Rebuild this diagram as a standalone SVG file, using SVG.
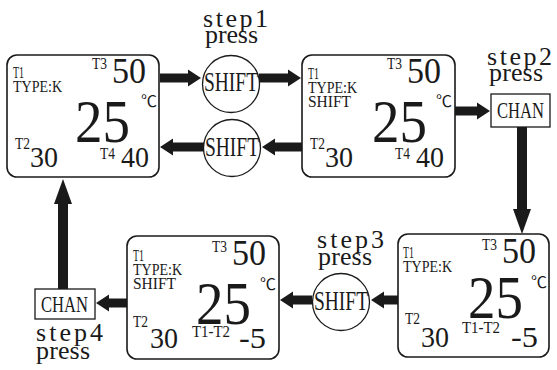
<svg xmlns="http://www.w3.org/2000/svg" width="557" height="370" viewBox="0 0 557 370">
<defs>
<style>
text{font-family:"Liberation Serif","Noto Sans CJK SC",serif;fill:#1a1a1a}
.box{fill:#fff;stroke:#1a1a1a;stroke-width:1.6}
.btn{fill:#fff;stroke:#1a1a1a;stroke-width:1.3}
.sm{font-size:16px}
.md{font-size:30px}
.lg{font-size:35px}
.xl{font-size:62px}
.deg{font-size:16px}
.key{font-size:28px}
.chan{font-size:23px}
.lbl{font-size:26px}
.arr{stroke:#1a1a1a;stroke-width:9;fill:none}
.arv{stroke:#1a1a1a;stroke-width:10;fill:none}
</style>
<marker id="ah" markerUnits="userSpaceOnUse" markerWidth="13" markerHeight="18" viewBox="0 -9 13 18" refX="1" refY="0" orient="auto"><path d="M0,-8.5 L13,0 L0,8.5 Z" fill="#1a1a1a"/></marker>
<marker id="av" markerUnits="userSpaceOnUse" markerWidth="25" markerHeight="18" viewBox="0 -9 25 18" refX="1" refY="0" orient="auto"><path d="M0,-9 L25,0 L0,9 Z" fill="#1a1a1a"/></marker>
</defs>
<rect width="557" height="370" fill="#fff"/>

<g id="connectors">
<line class="arr" x1="160" y1="78" x2="189" y2="78" marker-end="url(#ah)"/>
<line class="arr" x1="259" y1="78" x2="289" y2="78" marker-end="url(#ah)"/>
<line class="arr" x1="302" y1="147" x2="274" y2="147" marker-end="url(#ah)"/>
<line class="arr" x1="204" y1="147" x2="172" y2="147" marker-end="url(#ah)"/>
<line class="arr" x1="455" y1="111" x2="478" y2="111" marker-end="url(#ah)"/>
<line class="arv" x1="522" y1="127" x2="522" y2="210" marker-end="url(#av)"/>
<line class="arr" x1="398" y1="300" x2="383" y2="300" marker-end="url(#ah)"/>
<line class="arr" x1="312" y1="300" x2="292" y2="300" marker-end="url(#ah)"/>
<line class="arr" x1="127" y1="303" x2="108" y2="303" marker-end="url(#ah)"/>
<line class="arv" x1="63" y1="289" x2="63" y2="203" marker-end="url(#av)"/>
</g>

<g id="display1">
<rect class="box" x="7" y="55" width="152" height="122" rx="10"/>
<text class="sm" x="13" y="78" textLength="11" lengthAdjust="spacingAndGlyphs">T1</text>
<text class="sm" x="13" y="92" textLength="49" lengthAdjust="spacingAndGlyphs">TYPE:K</text>
<text class="sm" x="92" y="69" textLength="15" lengthAdjust="spacingAndGlyphs">T3</text>
<text class="lg" x="112" y="83" textLength="34" lengthAdjust="spacingAndGlyphs">50</text>
<text class="xl" x="75" y="142" textLength="55" lengthAdjust="spacingAndGlyphs">25</text>
<text class="deg" x="141" y="107">℃</text>
<text class="sm" x="15" y="149" textLength="15" lengthAdjust="spacingAndGlyphs">T2</text>
<text class="md" x="30" y="167" textLength="28" lengthAdjust="spacingAndGlyphs">30</text>
<text class="sm" x="100" y="159" textLength="15" lengthAdjust="spacingAndGlyphs">T4</text>
<text class="md" x="121" y="167" textLength="28" lengthAdjust="spacingAndGlyphs">40</text>
</g>

<g id="display2">
<rect class="box" x="302" y="55" width="153" height="122" rx="10"/>
<text class="sm" x="308" y="79" textLength="11" lengthAdjust="spacingAndGlyphs">T1</text>
<text class="sm" x="308" y="93" textLength="49" lengthAdjust="spacingAndGlyphs">TYPE:K</text>
<text class="sm" x="308" y="107" textLength="43" lengthAdjust="spacingAndGlyphs">SHIFT</text>
<text class="sm" x="387" y="69" textLength="15" lengthAdjust="spacingAndGlyphs">T3</text>
<text class="lg" x="407" y="83" textLength="34" lengthAdjust="spacingAndGlyphs">50</text>
<text class="xl" x="372" y="142" textLength="55" lengthAdjust="spacingAndGlyphs">25</text>
<text class="deg" x="436" y="107">℃</text>
<text class="sm" x="310" y="149" textLength="15" lengthAdjust="spacingAndGlyphs">T2</text>
<text class="md" x="325" y="167" textLength="28" lengthAdjust="spacingAndGlyphs">30</text>
<text class="sm" x="395" y="159" textLength="15" lengthAdjust="spacingAndGlyphs">T4</text>
<text class="md" x="416" y="167" textLength="28" lengthAdjust="spacingAndGlyphs">40</text>
</g>

<g id="display3">
<rect class="box" x="398" y="234" width="151" height="123" rx="10"/>
<text class="sm" x="403" y="258" textLength="11" lengthAdjust="spacingAndGlyphs">T1</text>
<text class="sm" x="403" y="272" textLength="49" lengthAdjust="spacingAndGlyphs">TYPE:K</text>
<text class="sm" x="482" y="250" textLength="15" lengthAdjust="spacingAndGlyphs">T3</text>
<text class="lg" x="502" y="263" textLength="34" lengthAdjust="spacingAndGlyphs">50</text>
<text class="xl" x="468" y="318" textLength="55" lengthAdjust="spacingAndGlyphs">25</text>
<text class="deg" x="531" y="288">℃</text>
<text class="sm" x="405" y="324" textLength="15" lengthAdjust="spacingAndGlyphs">T2</text>
<text class="md" x="421" y="347" textLength="28" lengthAdjust="spacingAndGlyphs">30</text>
<text class="sm" x="462" y="333" textLength="38" lengthAdjust="spacingAndGlyphs">T1-T2</text>
<text class="md" x="511" y="347" textLength="27" lengthAdjust="spacingAndGlyphs">-5</text>
</g>

<g id="display4">
<rect class="box" x="127" y="236" width="152" height="123" rx="10"/>
<text class="sm" x="133" y="261" textLength="11" lengthAdjust="spacingAndGlyphs">T1</text>
<text class="sm" x="133" y="275" textLength="49" lengthAdjust="spacingAndGlyphs">TYPE:K</text>
<text class="sm" x="133" y="289" textLength="43" lengthAdjust="spacingAndGlyphs">SHIFT</text>
<text class="sm" x="212" y="252" textLength="15" lengthAdjust="spacingAndGlyphs">T3</text>
<text class="lg" x="232" y="265" textLength="34" lengthAdjust="spacingAndGlyphs">50</text>
<text class="xl" x="196" y="324" textLength="55" lengthAdjust="spacingAndGlyphs">25</text>
<text class="deg" x="260" y="290">℃</text>
<text class="sm" x="133" y="327" textLength="15" lengthAdjust="spacingAndGlyphs">T2</text>
<text class="md" x="150" y="348" textLength="28" lengthAdjust="spacingAndGlyphs">30</text>
<text class="sm" x="192" y="337" textLength="38" lengthAdjust="spacingAndGlyphs">T1-T2</text>
<text class="md" x="239" y="348" textLength="27" lengthAdjust="spacingAndGlyphs">-5</text>
</g>

<g id="shift1">
<circle class="btn" cx="231" cy="84" r="28.5"/>
<text class="key" x="204" y="91" textLength="54" lengthAdjust="spacingAndGlyphs">SHIFT</text>
<text class="lbl" x="203" y="27" textLength="65" lengthAdjust="spacing">step1</text>
<text class="lbl" x="205" y="43" textLength="53" lengthAdjust="spacing">press</text>
</g>

<g id="shift2">
<circle class="btn" cx="232" cy="148" r="28.5"/>
<text class="key" x="205" y="156" textLength="54" lengthAdjust="spacingAndGlyphs">SHIFT</text>
</g>

<g id="chan1">
<rect class="btn" x="491" y="94" width="59" height="33"/>
<text class="chan" x="497" y="118" textLength="47" lengthAdjust="spacingAndGlyphs">CHAN</text>
<text class="lbl" x="487" y="65" textLength="65" lengthAdjust="spacing">step2</text>
<text class="lbl" x="489" y="81" textLength="54" lengthAdjust="spacing">press</text>
</g>

<g id="shift3">
<circle class="btn" cx="341" cy="302" r="28.5"/>
<text class="key" x="314" y="310" textLength="54" lengthAdjust="spacingAndGlyphs">SHIFT</text>
<text class="lbl" x="317" y="248" textLength="67" lengthAdjust="spacing">step3</text>
<text class="lbl" x="318" y="265" textLength="54" lengthAdjust="spacing">press</text>
</g>

<g id="chan2">
<rect class="btn" x="35" y="289" width="60" height="30"/>
<text class="chan" x="41" y="312" textLength="47" lengthAdjust="spacingAndGlyphs">CHAN</text>
<text class="lbl" x="36" y="341" textLength="67" lengthAdjust="spacing">step4</text>
<text class="lbl" x="36" y="359" textLength="54" lengthAdjust="spacing">press</text>
</g>
</svg>
